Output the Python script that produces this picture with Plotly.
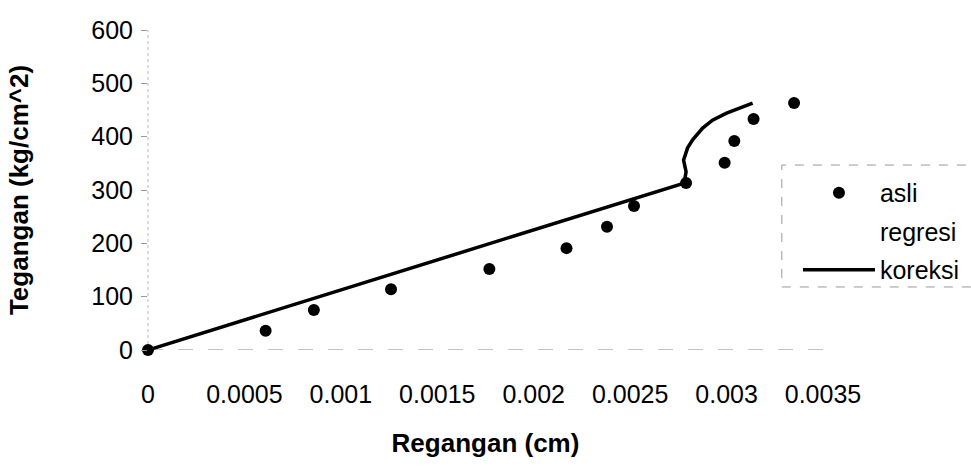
import plotly.graph_objects as go

# ---- data ----
asli_x = [0, 0.00061, 0.00086, 0.00126, 0.00177, 0.00217, 0.00238, 0.00252,
          0.00279, 0.00299, 0.00304, 0.00314, 0.00335]
asli_y = [0, 36, 75, 114, 152, 191, 231, 270, 313, 351, 392, 433, 463]

# "regresi" is listed in the legend but draws no visible mark
regresi_x = [0]
regresi_y = [0]

koreksi_x = [0, 0.00061, 0.00086, 0.00126, 0.00177, 0.00217, 0.00238, 0.00252,
             0.00278, 0.00279, 0.002777, 0.002798, 0.002824, 0.002876, 0.002927,
             0.0030, 0.003067, 0.003135]
koreksi_y = [0, 69, 97, 142, 199, 244, 268, 284,
             313, 334, 356, 379, 394, 416, 431, 444, 454, 463]

x_tickvals = [0, 0.0005, 0.001, 0.0015, 0.002, 0.0025, 0.003, 0.0035]
x_ticktext = ["0", "0.0005", "0.001", "0.0015", "0.002", "0.0025", "0.003", "0.0035"]
y_tickvals = [0, 100, 200, 300, 400, 500, 600]
y_ticktext = ["0", "100", "200", "300", "400", "500", "600"]

FONT = "Liberation Sans, Arial, sans-serif"

fig = go.Figure()
fig.add_trace(go.Scatter(
    x=asli_x, y=asli_y, mode="markers", name="asli", legendgroup="a",
    marker=dict(symbol="circle", size=12, color="#000000"), cliponaxis=False,
))
fig.add_trace(go.Scatter(
    x=regresi_x, y=regresi_y, mode="lines", name="regresi", legendgroup="b",
    line=dict(color="rgba(0,0,0,0)", width=2), hoverinfo="skip",
))
fig.add_trace(go.Scatter(
    x=koreksi_x, y=koreksi_y, mode="lines", name="koreksi", legendgroup="c",
    line=dict(color="#000000", width=3.5), cliponaxis=False,
))

fig.update_layout(
    width=971, height=474,
    margin=dict(l=148, r=148, t=30, b=124, autoexpand=False),
    paper_bgcolor="white", plot_bgcolor="white",
    font=dict(family=FONT, size=25, color="black"),
    showlegend=True,
    legend=dict(
        xref="container", yref="container",
        x=0.8218, xanchor="left", y=0.6414, yanchor="top",
        bgcolor="rgba(255,255,255,0)", borderwidth=0,
        font=dict(family=FONT, size=25, color="black"),
        traceorder="grouped", tracegroupgap=3, itemwidth=72,
    ),
    xaxis=dict(
        range=[0, 0.0035], tickmode="array", tickvals=x_tickvals, ticktext=x_ticktext,
        showgrid=False, zeroline=False, showline=False, ticks="",
        ticklabelstandoff=27,
        tickfont=dict(family=FONT, size=25, color="black"),
        title=dict(text="<b>Regangan (cm)</b>", standoff=26,
                   font=dict(family=FONT, size=26, color="black")),
    ),
    yaxis=dict(
        range=[0, 600], tickmode="array", tickvals=y_tickvals, ticktext=y_ticktext,
        showgrid=False, zeroline=False, showline=False,
        ticks="outside", ticklen=6, tickcolor="#999999", tickwidth=1,
        ticklabelstandoff=3,
        tickfont=dict(family=FONT, size=25, color="black"),
        title=dict(text="<b>Tegangan (kg/cm^2)</b>", standoff=55,
                   font=dict(family=FONT, size=26, color="black")),
    ),
    shapes=[
        # x axis line (dashed grey)
        dict(type="line", xref="paper", yref="y", x0=0, x1=1, y0=0, y1=0,
             line=dict(color="#888888", width=1.2, dash="longdash"), layer="below"),
        # y axis line (dotted grey)
        dict(type="line", xref="paper", yref="paper", x0=0, x1=0, y0=0, y1=1,
             line=dict(color="#bbbbbb", width=1, dash="dot"), layer="below"),
        # legend frame (dashed grey)
        dict(type="rect", xref="paper", yref="paper", x0=0.939, x1=1.225,
             y0=0.197, y1=0.578,
             line=dict(color="#999999", width=1, dash="dash"), layer="below"),
    ],
)

fig.write_html("out.html")
